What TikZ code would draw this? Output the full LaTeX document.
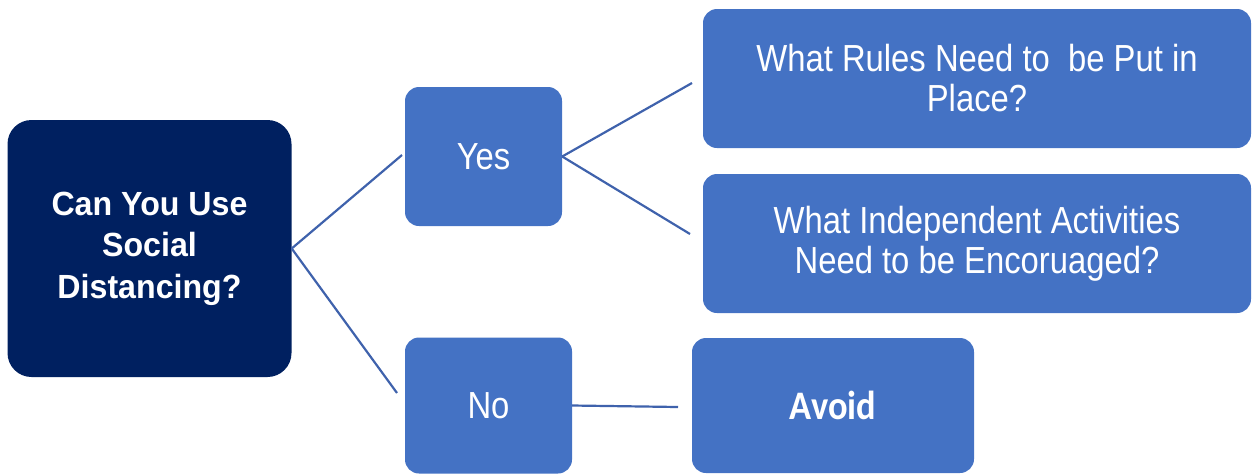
\documentclass[tikz,border=0pt]{standalone}
\usepackage{fontspec}
\newfontfamily\narrowfont{Liberation Sans}[FakeStretch=0.87]
\newfontfamily\mainboldfont{Liberation Sans}[FakeStretch=0.96]
\newfontfamily\avoidfont{Carlito}[FakeStretch=0.9]
\definecolor{navy}{HTML}{002060}
\definecolor{boxblue}{HTML}{4472C4}
\definecolor{linkblue}{RGB}{63,98,172}
\tikzset{
  bluebox/.style={fill=boxblue, draw=none, rounded corners=14pt, text=white, align=center, inner sep=0pt},
  navybox/.style={fill=navy, draw=none, rounded corners=24pt, text=white, align=center, inner sep=0pt},
  reg/.style={font=\narrowfont\fontsize{37.7}{40}\selectfont},
  link/.style={draw=linkblue, line width=2.2pt}
}
\begin{document}
\begin{tikzpicture}[x=1pt,y=-1pt]
\useasboundingbox (0,0) rectangle (1252,475);
\node[navybox, minimum width=284pt, minimum height=257pt,
  font=\mainboldfont\bfseries\fontsize{33.5}{41.5}\selectfont] (main) at (149.5,248.5)
  {\raisebox{-2pt}{\begin{tabular}{@{}c@{}}Can You Use\\Social\\Distancing?\end{tabular}}};
\node[bluebox, reg, minimum width=157pt, minimum height=139pt] (yes) at (483.5,156.5) {Yes};
\node[bluebox, reg, minimum width=167pt, minimum height=136pt] (no) at (488.5,405.5) {No};
\node[bluebox, reg, minimum width=548pt, minimum height=139pt] (rules) at (977,78.5)
  {What Rules Need to\ \ be Put in\\Place?};
\node[bluebox, reg, minimum width=548pt, minimum height=139pt] (indep) at (977,243.5)
  {What Independent Activities\\Need to be Encoruaged?};
\node[bluebox, minimum width=282pt, minimum height=135pt,
  font=\avoidfont\bfseries\fontsize{40.5}{44}\selectfont] (avoid) at (833,405.5) {Avoid};
\coordinate (yesin) at (402,155);
\coordinate (noin) at (397,393);
\coordinate (rulesin) at (692,83);
\coordinate (indepin) at (690,234);
\coordinate (avoidin) at (678,407);
\draw[link] (main.east) -- (yesin);
\draw[link] (main.east) -- (noin);
\draw[link] (yes.east) -- (rulesin);
\draw[link] (yes.east) -- (indepin);
\draw[link] (no.east) -- (avoidin);
\end{tikzpicture}
\end{document}
